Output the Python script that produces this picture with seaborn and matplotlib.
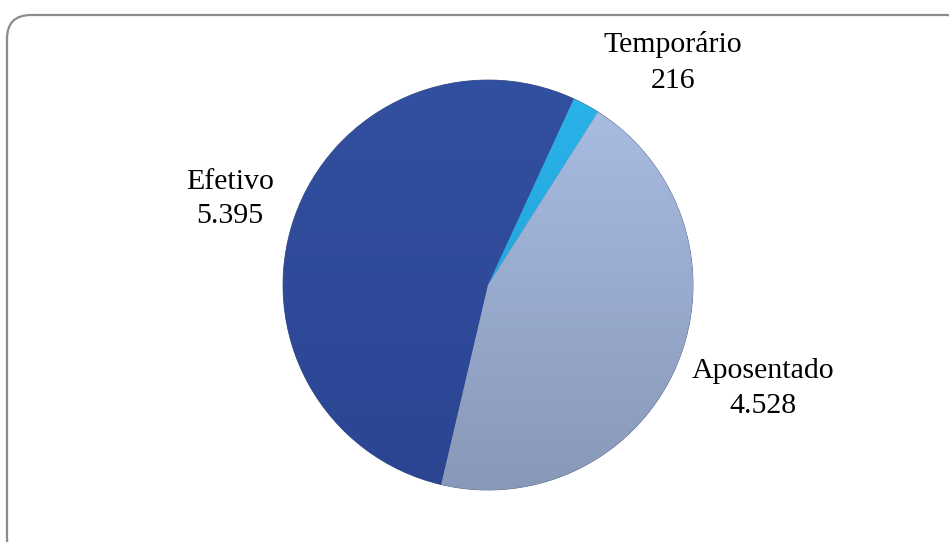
import numpy as np
import matplotlib
matplotlib.use("Agg")
import matplotlib.pyplot as plt
import seaborn as sns
from matplotlib.patches import FancyBboxPatch
from matplotlib.colors import LinearSegmentedColormap
from matplotlib.transforms import IdentityTransform

# Dados do grafico
categorias = ["Efetivo", "Temporário", "Aposentado"]
valores = [5395, 216, 4528]
rotulos_valor = ["5.395", "216", "4.528"]

sns.set_style("white")
plt.rcParams["font.family"] = ["Liberation Serif", "DejaVu Serif"]

cores = ["#2f4b9c", "#1fa8e2", "#a3b6dc"]

W, H = 949, 542
fig = plt.figure(figsize=(W / 100, H / 100), dpi=100)

# Moldura arredondada em pixels (sai da imagem a direita e embaixo)
moldura = FancyBboxPatch((7, -20), 965, H - 15 + 20,
                         boxstyle="round,pad=0,rounding_size=24",
                         transform=IdentityTransform(), facecolor="none",
                         edgecolor="#8c8c8c", linewidth=1.6, zorder=-1)
fig.patches.append(moldura)

# Pizza: centro ~(488, 285) px, raio ~206 px
cx, cy, r = 488, 285, 206
ax = fig.add_axes([(cx - r) / W, 1 - (cy + r) / H, 2 * r / W, 2 * r / H])
wedges, _ = ax.pie(valores, colors=cores, startangle=256.8, counterclock=False,
                   wedgeprops=dict(edgecolor="#4a5a80", linewidth=0.6))

# Degrade vertical em cada fatia
grad = np.linspace(0, 1, 256).reshape(-1, 1)
mapas = [
    LinearSegmentedColormap.from_list("ef", ["#2b4592", "#3250a0"]),
    LinearSegmentedColormap.from_list("te", ["#1a9ad4", "#2bb4ea"]),
    LinearSegmentedColormap.from_list("ap", ["#8898b8", "#aabee4"]),
]
for w, cmap in zip(wedges, mapas):
    im = ax.imshow(grad, cmap=cmap, extent=[-1, 1, -1, 1], origin="lower",
                   aspect="auto", zorder=w.get_zorder() + 0.1)
    im.set_clip_path(w)
ax.set_xlim(-1.005, 1.005)
ax.set_ylim(-1.005, 1.005)
ax.set_aspect("equal")
ax.axis("off")

# Rotulos: centro x e linhas de base (pixels da figura)
pos = {"Efetivo": (230, 189, 223),
       "Temporário": (673, 52, 88),
       "Aposentado": (763, 378, 413)}
for cat, val in zip(categorias, rotulos_valor):
    x, y1, y2 = pos[cat]
    fig.text(x / W, 1 - y1 / H, cat, ha="center", va="baseline",
             fontsize=21.5, color="black")
    fig.text(x / W, 1 - y2 / H, val, ha="center", va="baseline",
             fontsize=21.5, color="black")

fig.savefig("out.png", dpi=100)
